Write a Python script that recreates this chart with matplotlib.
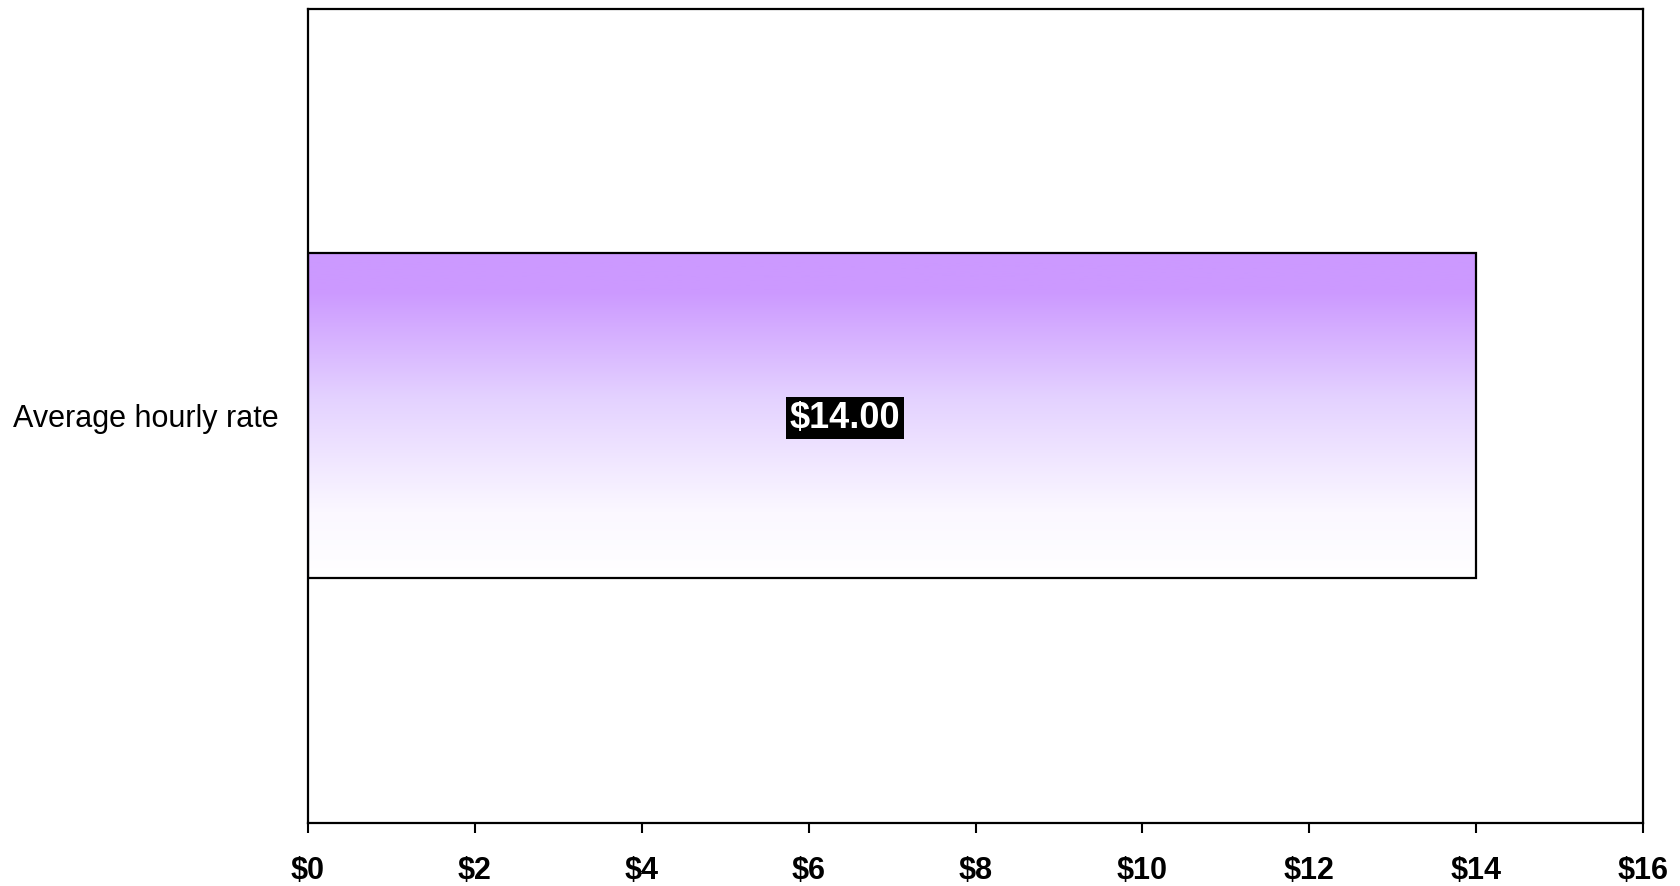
import numpy as np
import matplotlib
matplotlib.use("Agg")
import matplotlib.pyplot as plt
import matplotlib.ticker as ticker
from matplotlib.colors import LinearSegmentedColormap

# ── Data ─────────────────────────────────────────────────────────────────────
categories = ["Average hourly rate"]
values = [14.00]
x_ticks = [0, 2, 4, 6, 8, 10, 12, 14, 16]

PURPLE = "#CC99FF"
BLACK = "#000000"

plt.rcParams["font.family"] = ["Liberation Sans", "DejaVu Sans"]

fig = plt.figure(figsize=(16.81, 8.86), dpi=100)
ax = fig.add_axes([308 / 1681, 1 - 822.5 / 886, (1643 - 308) / 1681, (822.5 - 8.7) / 886])

ax.set_xlim(0, 16)
ax.set_ylim(-1, 1)

# Gradient fill (purple at top -> white at bottom), clipped to bar
grad_cmap = LinearSegmentedColormap.from_list(
    "bar_grad", [(0.0, "#FFFFFF"), (0.2, "#FBF8FF"), (0.55, "#E4D2FF"),
                 (0.88, PURPLE), (1.0, PURPLE)])
grad = np.linspace(0, 1, 256).reshape(-1, 1)

bar_h = 0.8
for i, (cat, val) in enumerate(zip(categories, values)):
    bars = ax.barh(i, val, height=bar_h, color="none", edgecolor=BLACK,
                   linewidth=1.6, zorder=3)
    b = bars[0]
    im = ax.imshow(grad, cmap=grad_cmap, aspect="auto", origin="lower",
                   extent=(0, val, i - bar_h / 2, i + bar_h / 2), zorder=2)
    im.set_clip_path(b)
    ax.annotate(f"${val:,.2f}", xy=(val / 2, i), xytext=(-34, -2),
                textcoords="offset points", ha="center", va="center",
                fontsize=26, fontweight="bold", color="white", zorder=4,
                bbox=dict(boxstyle="square,pad=0.1", facecolor=BLACK,
                          edgecolor="none"))

ax.set_xlim(0, 16)
ax.set_ylim(-1, 1)

ax.set_yticks(range(len(categories)))
ax.set_yticklabels(categories, fontsize=22)
ax.tick_params(axis="y", length=0, pad=21)

ax.set_xticks(x_ticks)
ax.xaxis.set_major_formatter(ticker.FuncFormatter(lambda x, p: f"${int(x)}"))
ax.tick_params(axis="x", direction="out", length=7, width=1.5, pad=17,
               labelsize=22)
for lbl in ax.get_xticklabels():
    lbl.set_fontweight("bold")

for sp in ax.spines.values():
    sp.set_linewidth(1.6)
    sp.set_color(BLACK)

fig.savefig("out.png", dpi=100, facecolor="white")
